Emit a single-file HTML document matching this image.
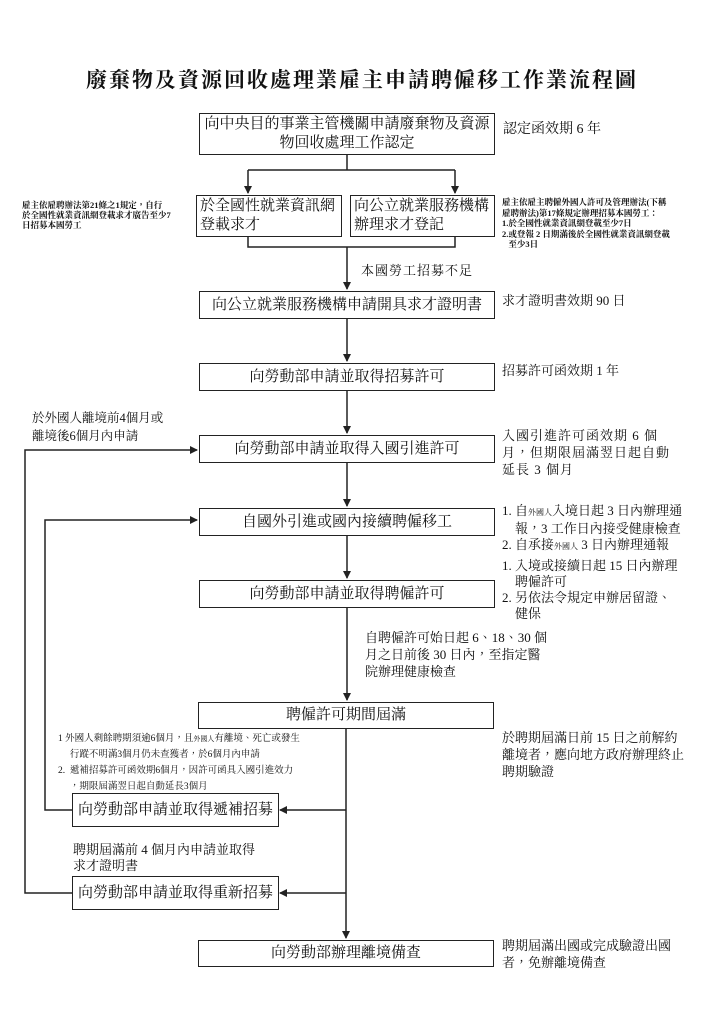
<!DOCTYPE html>
<html><head><meta charset="utf-8"><style>
body{margin:0;background:#fff;}
#c{position:relative;width:724px;height:1024px;overflow:hidden;font-family:"Liberation Serif","Noto Serif CJK TC","Noto Serif CJK SC",serif;color:#111;}
.b{position:absolute;border:1.5px solid #222;box-sizing:border-box;background:#fff;font-size:15px;display:flex;align-items:center;justify-content:center;text-align:center;line-height:19px;white-space:nowrap;}
.t{position:absolute;white-space:nowrap;}
svg{position:absolute;left:0;top:0;}
</style></head><body><div id="c">
<svg width="724" height="1024">
<defs><marker id="a" markerWidth="8" markerHeight="8" refX="7" refY="4" orient="auto" markerUnits="userSpaceOnUse"><path d="M0,0 L8,4 L0,8z" fill="#222"/></marker></defs>
<g stroke="#222" stroke-width="1.5" fill="none">
<path d="M347 155V170M248 170H455"/>
<path d="M248 170V193" marker-end="url(#a)"/><path d="M455 170V193" marker-end="url(#a)"/>
<path d="M248 237V247H455V237"/>
<path d="M347 247V289" marker-end="url(#a)"/>
<path d="M347 319V361" marker-end="url(#a)"/>
<path d="M347 391V433" marker-end="url(#a)"/>
<path d="M347 463V506" marker-end="url(#a)"/>
<path d="M347 536V578" marker-end="url(#a)"/>
<path d="M347 608V700" marker-end="url(#a)"/>
<path d="M346 729V938" marker-end="url(#a)"/>
<path d="M346 810H280" marker-end="url(#a)"/>
<path d="M346 893H280" marker-end="url(#a)"/>
<path d="M72 810H45V520H197" marker-end="url(#a)"/>
<path d="M72 893H25V450H197" marker-end="url(#a)"/>
</g></svg>
<div class="t" style="left:0;width:724px;text-align:center;top:64px;font-size:21px;font-weight:bold;letter-spacing:2px;">廢棄物及資源回收處理業雇主申請聘僱移工作業流程圖</div>
<div class="b" style="left:199px;top:113px;width:296px;height:42px;">向中央目的事業主管機關申請廢棄物及資源<br>物回收處理工作認定</div>
<div class="t" style="left:503px;top:118px;font-size:14px;">認定函效期 6 年</div>
<div class="b" style="left:196px;top:195px;width:146px;height:42px;justify-content:flex-start;text-align:left;padding-left:3px;font-size:15px;">於全國性就業資訊網<br>登載求才</div>
<div class="b" style="left:350px;top:195px;width:145px;height:42px;justify-content:flex-start;text-align:left;padding-left:3px;font-size:15px;">向公立就業服務機構<br>辦理求才登記</div>
<div class="t" style="left:22px;top:200px;font-size:8.5px;line-height:10px;font-weight:bold;">雇主依雇聘辦法第21條之1規定，自行<br>於全國性就業資訊網登載求才廣告至少7<br>日招募本國勞工</div>
<div class="t" style="left:502px;top:197px;font-size:8.5px;line-height:10.5px;font-weight:bold;">雇主依雇主聘僱外國人許可及管理辦法(下稱<br>雇聘辦法)第17條規定辦理招募本國勞工：<br>1.於全國性就業資訊網登載至少7日<br>2.或登報 2 日期滿後於全國性就業資訊網登載<br>&nbsp;&nbsp;&nbsp;至少3日</div>
<div class="t" style="left:361px;top:260px;font-size:13px;letter-spacing:1px;">本國勞工招募不足</div>
<div class="b" style="left:199px;top:291px;width:296px;height:28px;">向公立就業服務機構申請開具求才證明書</div>
<div class="t" style="left:502px;top:290px;font-size:13px;">求才證明書效期 90 日</div>
<div class="b" style="left:199px;top:363px;width:296px;height:28px;">向勞動部申請並取得招募許可</div>
<div class="t" style="left:502px;top:360px;font-size:13px;">招募許可函效期 1 年</div>
<div class="t" style="left:32px;top:409px;font-size:12.5px;line-height:18px;">於外國人離境前4個月或<br>離境後6個月內申請</div>
<div class="b" style="left:199px;top:435px;width:296px;height:28px;">向勞動部申請並取得入國引進許可</div>
<div class="t" style="left:502px;top:427px;font-size:13px;line-height:17px;letter-spacing:1px;">入國引進許可函效期 6 個<br>月，但期限屆滿翌日起自動<br>延長 3 個月</div>
<div class="b" style="left:199px;top:508px;width:296px;height:28px;">自國外引進或國內接續聘僱移工</div>
<div class="t" style="left:502px;top:503px;font-size:13px;line-height:16px;">1. 自<small style="font-size:8px">外國人</small>入境日起 3 日內辦理通<br>&nbsp;&nbsp;&nbsp;&nbsp;報，3 工作日內接受健康檢查<br>2. 自承接<small style="font-size:8px">外國人</small> 3 日內辦理通報</div>
<div class="b" style="left:199px;top:580px;width:296px;height:28px;">向勞動部申請並取得聘僱許可</div>
<div class="t" style="left:502px;top:558px;font-size:13px;line-height:16px;">1. 入境或接續日起 15 日內辦理<br>&nbsp;&nbsp;&nbsp;&nbsp;聘僱許可<br>2. 另依法令規定申辦居留證、<br>&nbsp;&nbsp;&nbsp;&nbsp;健保</div>
<div class="t" style="left:365px;top:629px;font-size:13px;line-height:17px;">自聘僱許可始日起 6、18、30 個<br>月之日前後 30 日內，至指定醫<br>院辦理健康檢查</div>
<div class="b" style="left:198px;top:702px;width:296px;height:27px;">聘僱許可期間屆滿</div>
<div class="t" style="left:502px;top:729px;font-size:13px;line-height:17px;">於聘期屆滿日前 15 日之前解約<br>離境者，應向地方政府辦理終止<br>聘期驗證</div>
<div class="t" style="left:58px;top:731px;font-size:9.5px;line-height:16px;">1 外國人剩餘聘期須逾6個月，且<small style="font-size:7px">外國人</small>有離境、死亡或發生<br>&nbsp;&nbsp;&nbsp;&nbsp;&nbsp;行蹤不明滿3個月仍未查獲者，於6個月內申請<br>2.&nbsp;&nbsp;遞補招募許可函效期6個月，因許可函具入國引進效力<br>&nbsp;&nbsp;&nbsp;&nbsp;&nbsp;，期限屆滿翌日起自動延長3個月</div>
<div class="b" style="left:72px;top:793px;width:207px;height:34px;font-size:15px;">向勞動部申請並取得遞補招募</div>
<div class="t" style="left:73px;top:842px;font-size:13px;line-height:16px;">聘期屆滿前 4 個月內申請並取得<br>求才證明書</div>
<div class="b" style="left:72px;top:876px;width:207px;height:34px;font-size:15px;">向勞動部申請並取得重新招募</div>
<div class="b" style="left:198px;top:940px;width:296px;height:27px;">向勞動部辦理離境備查</div>
<div class="t" style="left:502px;top:937px;font-size:13px;line-height:17px;">聘期屆滿出國或完成驗證出國<br>者，免辦離境備查</div>
</div></body></html>
